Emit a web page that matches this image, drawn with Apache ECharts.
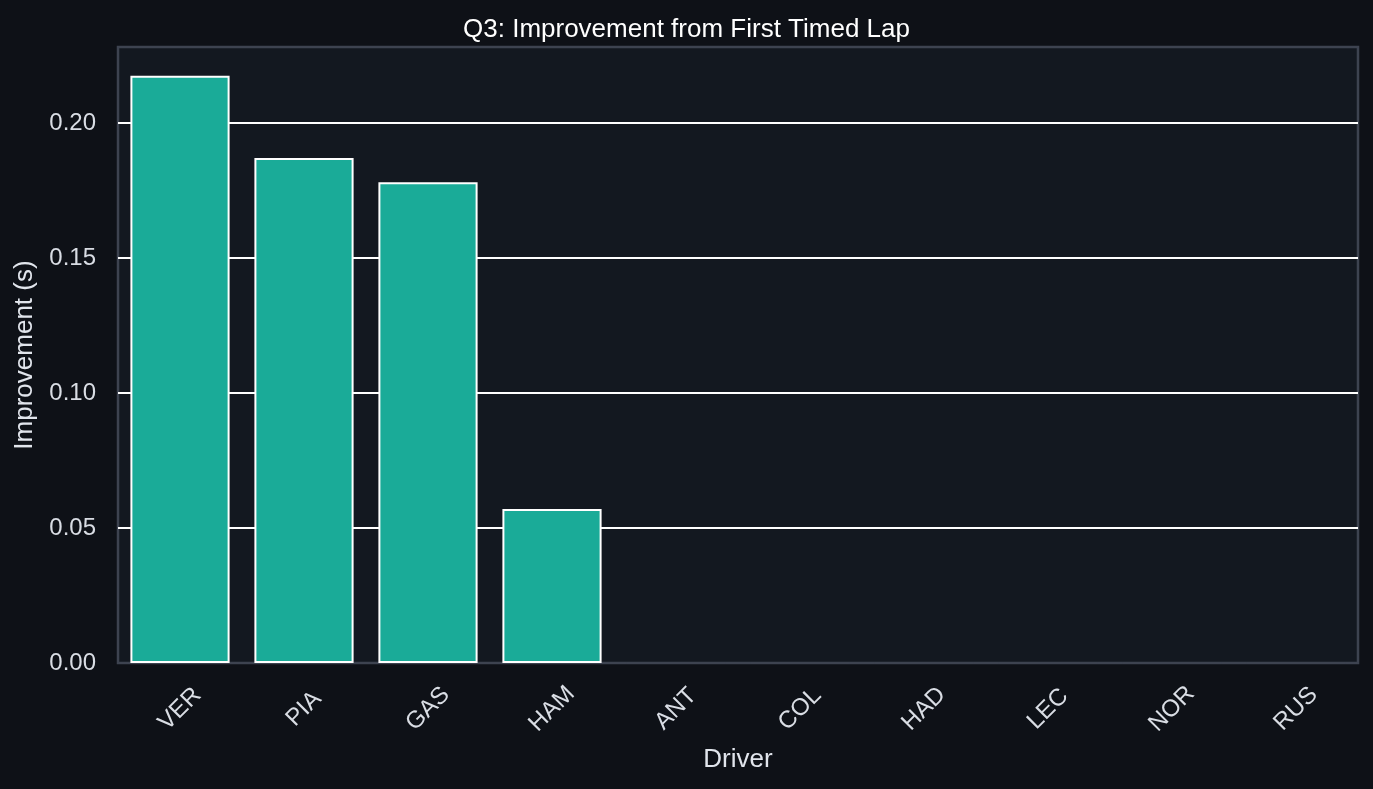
<!DOCTYPE html>
<html>
<head>
<meta charset="utf-8">
<script src="https://cdn.jsdelivr.net/npm/echarts@6/dist/echarts.min.js"></script>
<style>
  html, body { margin: 0; padding: 0; background: #0e1117; }
  #chart { width: 1373px; height: 789px; }
</style>
</head>
<body>
<div id="chart"></div>
<script>
const drivers = ["VER", "PIA", "GAS", "HAM", "ANT", "COL", "HAD", "LEC", "NOR", "RUS"];
const improvement = [0.2175, 0.187, 0.178, 0.057, 0, 0, 0, 0, 0, 0];
const yTicks = [0, 0.05, 0.1, 0.15, 0.2];

const chart = echarts.init(document.getElementById("chart"));

// zero-height bars only leave a faint outline on the axis
const barData = improvement.map(v => ({
  value: v,
  itemStyle: v === 0 ? { borderColor: "#3d4350" } : {}
}));

const option = {
  backgroundColor: "#0e1117",
  animation: false,
  textStyle: { fontFamily: "Liberation Sans, Arial, sans-serif" },
  title: {
    text: "Q3: Improvement from First Timed Lap",
    left: "center",
    top: 12,
    textStyle: { color: "#ffffff", fontSize: 26, fontWeight: "normal" }
  },
  grid: {
    left: 118, right: 15, top: 47, bottom: 126,
    show: true,
    backgroundColor: "#131820",
    borderColor: "#3d4350",
    borderWidth: 2.5
  },
  xAxis: {
    type: "category",
    data: drivers,
    name: "Driver",
    nameLocation: "middle",
    nameGap: 84,
    nameTextStyle: { color: "#e1e5ec", fontSize: 26 },
    axisLine: { show: false },
    axisTick: { show: false },
    axisLabel: {
      color: "#d9dde4", fontSize: 24, rotate: 45,
      align: "center", verticalAlign: "middle", margin: 46
    }
  },
  yAxis: {
    type: "value",
    min: 0,
    max: 0.2281,
    interval: 0.05,
    name: "Improvement (s)",
    nameLocation: "middle",
    nameGap: 80,
    nameTextStyle: { color: "#e1e5ec", fontSize: 26 },
    axisLine: { show: false },
    axisTick: { show: false },
    axisLabel: {
      color: "#d9dde4", fontSize: 24, margin: 22,
      formatter: v => yTicks.some(t => Math.abs(t - v) < 1e-9) ? v.toFixed(2) : ""
    },
    splitLine: {
      show: true, showMinLine: false, showMaxLine: false,
      lineStyle: { color: "#ffffff", width: 2 }
    }
  },
  series: [{
    type: "bar",
    data: barData,
    barCategoryGap: "20%",
    itemStyle: { color: "#1aab98", borderColor: "#ffffff", borderWidth: 2 }
  }]
};

chart.setOption(option);
</script>
</body>
</html>
